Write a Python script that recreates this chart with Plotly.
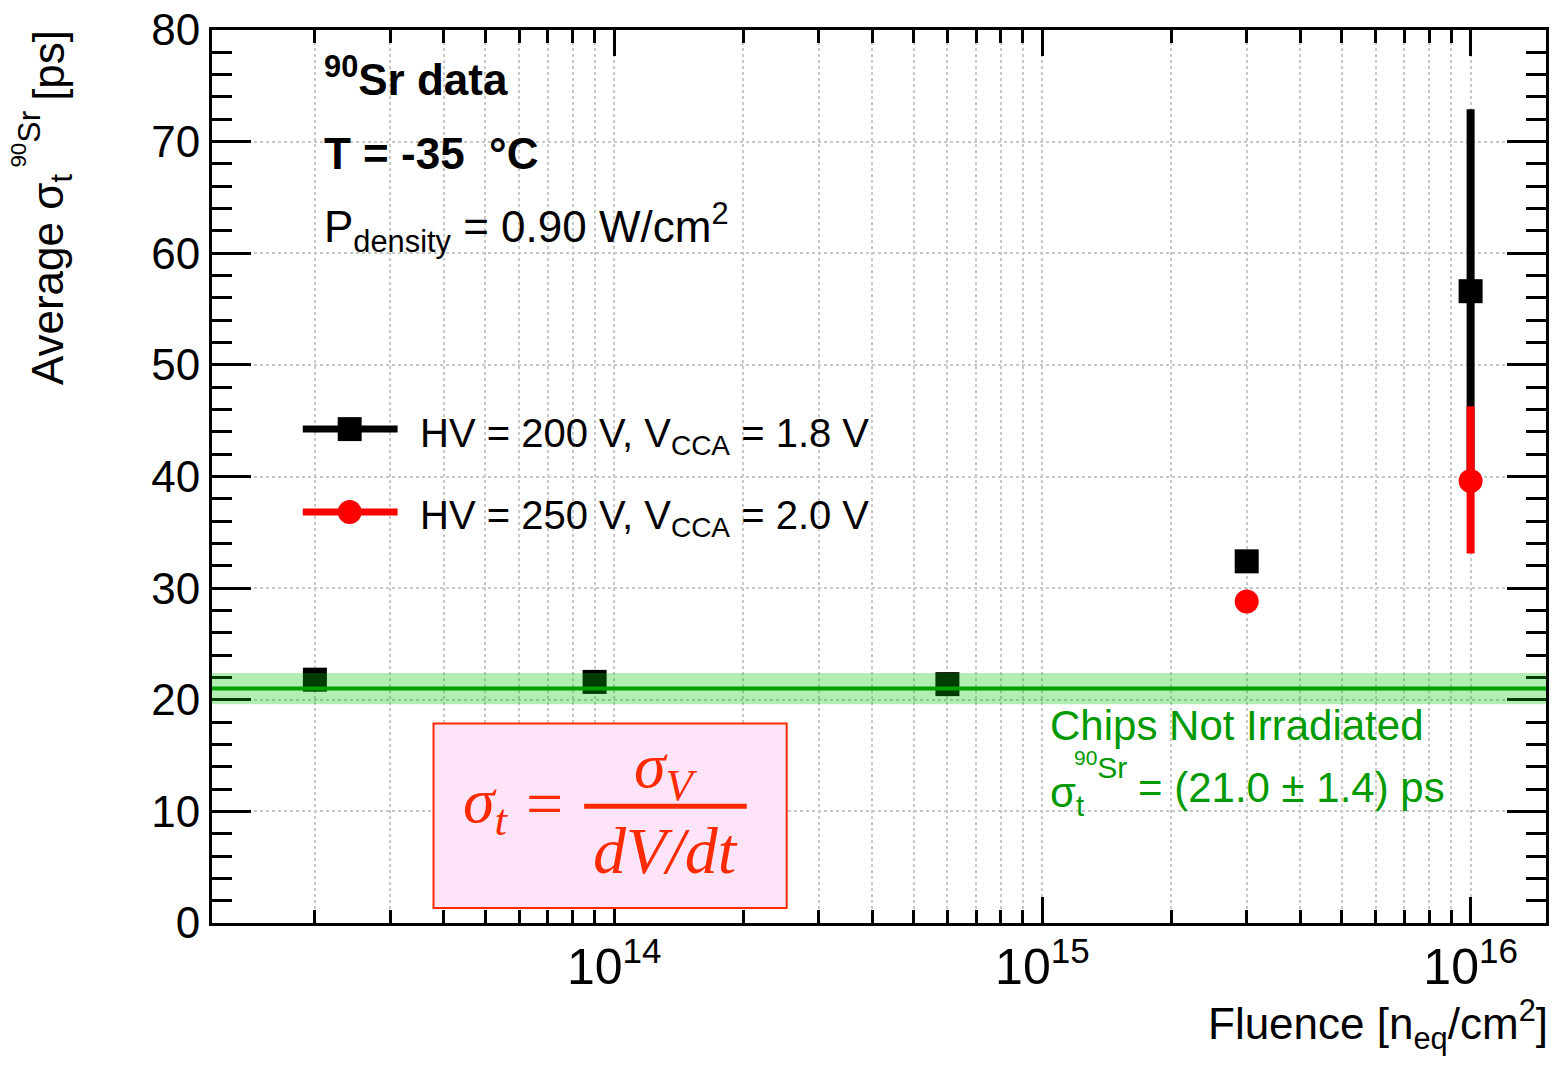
import math
import plotly.graph_objects as go

# ---------------- data ----------------
fluence_hv200 = [2e13, 9e13, 6e14, 3e15, 1e16]
sigma_hv200 = [21.8, 21.6, 21.4, 32.4, 56.6]
err_hv200 = [0.6, 0.6, 0.6, 0.8, 16.3]

fluence_hv250 = [3e15, 1e16]
sigma_hv250 = [28.8, 39.6]
err_hv250_up = [0.8, 6.7]
err_hv250_down = [0.8, 6.5]

ref_sigma = 21.0
ref_err = 1.4

x_range = [1.15e13, 1.5e16]
y_range = [0, 80]

# ---------------- layout helpers (pixel -> paper) ----------------
W, H = 1554, 1067
L, R, T, B = 212, 1549, 28, 923


def px(x):
    return (x - L) / (R - L)


def py(y):
    return (B - y) / (B - T)


FONT = "Liberation Sans"
SERIF = "Liberation Serif"
RED_F = "#ff2a00"
GREEN_T = "#009a00"

fig = go.Figure()

fig.add_trace(go.Scatter(
    x=fluence_hv200, y=sigma_hv200, mode="markers",
    marker=dict(symbol="square", size=24, color="black", line=dict(width=0)),
    error_y=dict(type="data", array=err_hv200, color="black", thickness=8, width=0),
    showlegend=False,
))
fig.add_trace(go.Scatter(
    x=fluence_hv250, y=sigma_hv250, mode="markers",
    marker=dict(symbol="circle", size=24, color="#ff0000", line=dict(width=0)),
    error_y=dict(type="data", array=err_hv250_up, arrayminus=err_hv250_down,
                 color="#ff0000", thickness=8, width=0),
    showlegend=False,
))

shapes = []
# reference band and line
shapes.append(dict(type="rect", xref="paper", yref="y", x0=0, x1=1,
                   y0=ref_sigma - ref_err, y1=ref_sigma + ref_err,
                   fillcolor="rgba(0,200,0,0.3)", line=dict(width=0), layer="above"))
shapes.append(dict(type="line", xref="paper", yref="y", x0=0, x1=1,
                   y0=ref_sigma, y1=ref_sigma,
                   line=dict(color="#00a000", width=4), layer="above"))
# legend
shapes.append(dict(type="line", xref="paper", yref="paper", x0=px(303), x1=px(398),
                   y0=py(428), y1=py(428), line=dict(color="black", width=7)))
shapes.append(dict(type="rect", xref="paper", yref="paper", x0=px(338), x1=px(362),
                   y0=py(416), y1=py(440), fillcolor="black", line=dict(width=0)))
shapes.append(dict(type="line", xref="paper", yref="paper", x0=px(303), x1=px(398),
                   y0=py(511), y1=py(511), line=dict(color="#ff0000", width=7)))
shapes.append(dict(type="circle", xref="paper", yref="paper", x0=px(338), x1=px(362),
                   y0=py(499), y1=py(523), fillcolor="#ff0000", line=dict(width=0)))
# formula box
shapes.append(dict(type="rect", xref="paper", yref="paper", x0=px(434), x1=px(788),
                   y0=py(908), y1=py(723), fillcolor="#fde4f8",
                   line=dict(color=RED_F, width=2), layer="above"))
shapes.append(dict(type="line", xref="paper", yref="paper", x0=px(585), x1=px(748),
                   y0=py(806), y1=py(806), line=dict(color=RED_F, width=5), layer="above"))

ann = []


def text(t, x, y, size, color="black", xanchor="left", yanchor="middle",
         family=FONT, angle=0, style="normal"):
    ann.append(dict(text=t, x=px(x), y=py(y), xref="paper", yref="paper",
                    xanchor=xanchor, yanchor=yanchor, showarrow=False,
                    textangle=angle,
                    font=dict(family=family, size=size, color=color, style=style)))


# top-left labels
text("<b><sup>90</sup>Sr data</b>", 322, 75, 44)
text("<b>T = -35\u00a0\u00a0°C</b>", 322, 152, 44)
text("P<sub>density</sub> = 0.90 W/cm<sup>2</sup>", 322, 226, 44)
# legend texts
text("HV = 200 V, V<sub>CCA</sub> = 1.8 V", 418, 435, 40)
text("HV = 250 V, V<sub>CCA</sub> = 2.0 V", 418, 517, 40)
# green reference labels
text("Chips Not Irradiated", 1050, 725, 42, GREEN_T)
text("σ<sub>t</sub>", 1050, 795, 42, GREEN_T)
text("<sup>90</sup>Sr", 1074, 765, 30, GREEN_T)
text("= (21.0 ± 1.4) ps", 1138, 787, 42, GREEN_T)
# formula
text("σ<sub>t</sub>", 462, 805, 64, RED_F, family=SERIF, style="italic")
text("=", 545, 803, 66, RED_F, xanchor="center", family=SERIF)
text("σ<sub>V</sub>", 667, 770, 64, RED_F, xanchor="center", family=SERIF, style="italic")
text("dV/dt", 667, 850, 66, RED_F, xanchor="center", family=SERIF, style="italic")
# axis titles
text("Fluence [n<sub>eq</sub>/cm<sup>2</sup>]", 1553, 1025, 44, xanchor="right")
text("Average σ<sub>t</sub>", 50, 386, 44, xanchor="center", yanchor="bottom", angle=-90)
text("<sup>90</sup>Sr", 26, 168, 32, xanchor="center", yanchor="bottom", angle=-90)
text("[ps]", 48, 26, 44, xanchor="center", yanchor="top", angle=-90)

grid_col = "#c8c8c8"
fig.update_layout(
    width=W, height=H,
    margin=dict(l=L, r=W - R, t=T, b=H - B),
    paper_bgcolor="white", plot_bgcolor="white",
    shapes=shapes, annotations=ann,
    font=dict(family=FONT, color="black"),
    xaxis=dict(
        type="log", range=[math.log10(x_range[0]), math.log10(x_range[1])],
        showline=True, linecolor="black", linewidth=3, mirror="ticks",
        ticks="inside", ticklen=26, tickwidth=3, tickcolor="black",
        dtick=1, exponentformat="power", showexponent="all",
        tickfont=dict(size=40, family=FONT), ticklabelstandoff=0,
        showgrid=True, gridcolor=grid_col, griddash="dot", gridwidth=2,
        zeroline=False,
        minor=dict(ticks="inside", ticklen=13, tickwidth=3, tickcolor="black",
                   dtick="D1", showgrid=True, gridcolor=grid_col, griddash="dot",
                   gridwidth=2),
    ),
    yaxis=dict(
        range=y_range, dtick=10,
        showline=True, linecolor="black", linewidth=3, mirror="ticks",
        ticks="inside", ticklen=39, tickwidth=3, tickcolor="black",
        tickfont=dict(size=44, family=FONT), ticklabelstandoff=0,
        showgrid=True, gridcolor=grid_col, griddash="dot", gridwidth=2,
        zeroline=False,
        minor=dict(ticks="inside", ticklen=20, tickwidth=3, tickcolor="black",
                   dtick=2, showgrid=False),
    ),
)

fig.write_html("out.html")
